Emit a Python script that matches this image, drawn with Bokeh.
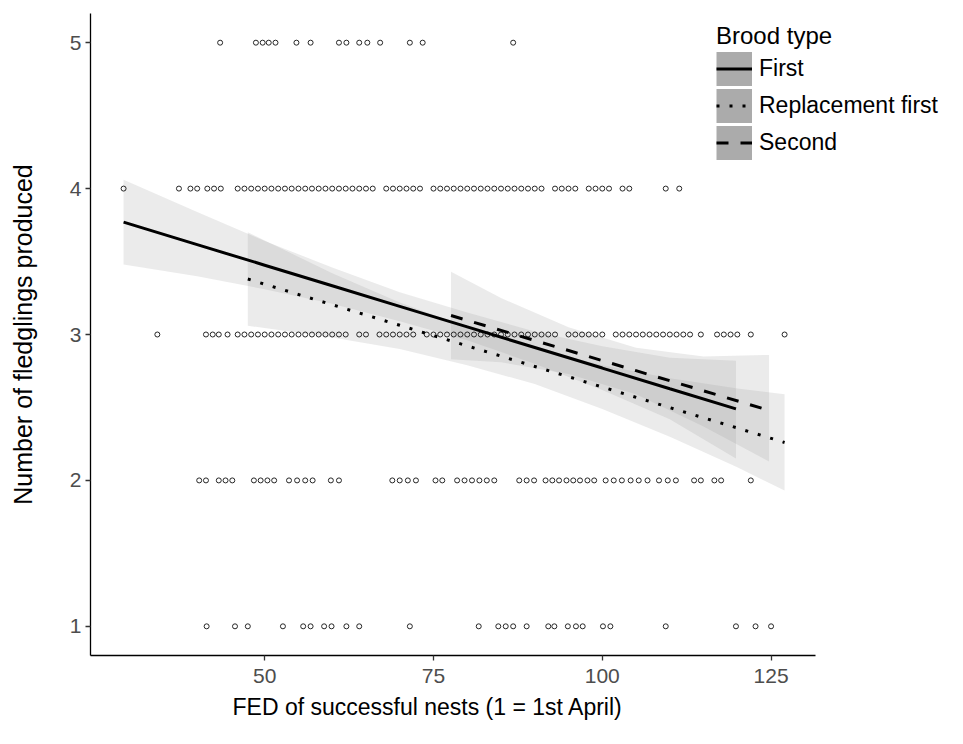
from bokeh.plotting import figure
from bokeh.models import Range1d, FixedTicker, Legend, LegendItem, Title
from bokeh.embed import file_html
from bokeh.resources import INLINE

# ---------------- data ----------------
x_ticks = [50, 75, 100, 125]
y_ticks = [1, 2, 3, 4, 5]
x_axis_limits = (24.2, 131.6)

fed_at_5 = [43.4, 48.7, 49.7, 50.6, 51.6, 54.7, 56.8, 61.0, 62.1, 64.0, 65.2,
            67.1, 71.5, 73.4, 86.8]
fed_at_4 = [29.1, 37.3, 39.0, 40.0, 41.5, 42.5, 43.5,
            46, 47, 48, 49, 50, 51, 52, 53, 54, 55, 56, 57, 58, 59, 60, 61, 62,
            63, 64, 65, 66,
            68, 69, 70, 71, 72, 73,
            75, 76, 77, 78, 79, 80, 81, 82, 83, 84, 85, 86, 87, 88, 89, 90, 91,
            93, 94, 95, 96, 98, 99, 100, 101, 103, 104, 109.4, 111.4]
fed_at_3 = [34.1, 41.3, 42.3, 43.2, 44.5,
            46, 47, 48, 49, 50, 51, 52, 53, 54, 55, 56, 57, 58, 59, 60, 61, 62,
            64, 65, 67, 68, 69, 70, 71, 72,
            74, 75, 76, 77, 78, 79, 80, 81, 82, 83, 84, 85, 86, 87, 88, 89, 90,
            91, 92, 93,
            95, 96, 97, 98, 99, 100,
            102, 103, 104, 105, 106, 107, 108, 109, 110, 111, 112, 113,
            114.6, 117, 118, 119, 120, 122, 127]
fed_at_2 = [40.3, 41.3, 43.2, 44.2, 45.2, 48.4, 49.4, 50.4, 51.4, 53.6, 54.8,
            56.0, 57.1, 59.8, 61.0, 68.9, 70.0, 71.2, 72.4, 75.3, 76.3, 78.5,
            79.6, 80.7, 81.8, 82.9, 84.0, 87.7, 88.8, 89.9, 91.6, 92.6, 93.6,
            94.7, 95.7, 96.7, 97.8, 98.8, 100.5, 101.7, 102.9, 104.2, 105.4,
            106.7, 108.4, 109.7, 110.9, 113.6, 114.6, 116.6, 117.6, 122.0]
fed_at_1 = [41.4, 45.6, 47.5, 52.7, 55.7, 56.8, 58.8, 59.9, 62.1, 64.0, 71.5,
            81.7, 84.6, 85.7, 86.8, 88.8, 92.0, 92.9, 94.9, 96.1, 97.1, 100.1,
            101.2, 109.4, 119.8, 122.7, 125.0]

first_x     = [29.1, 40, 50, 60, 70, 80, 90, 100, 110, 119.8]
first_fit   = [3.77, 3.616, 3.475, 3.334, 3.193, 3.052, 2.911, 2.770, 2.628, 2.490]
first_lower = [3.48, 3.40, 3.31, 3.21, 3.09, 2.96, 2.80, 2.62, 2.42, 2.15]
first_upper = [4.06, 3.84, 3.64, 3.46, 3.29, 3.15, 3.02, 2.92, 2.84, 2.82]

repl_x     = [47.5, 60, 70, 80, 90, 100, 110, 120, 127]
repl_fit   = [3.38, 3.204, 3.063, 2.922, 2.781, 2.640, 2.499, 2.359, 2.260]
repl_lower = [3.06, 2.98, 2.90, 2.79, 2.66, 2.49, 2.30, 2.09, 1.93]
repl_upper = [3.70, 3.42, 3.22, 3.05, 2.91, 2.79, 2.70, 2.63, 2.59]

second_x     = [77.6, 85, 95, 105, 115, 124.7]
second_fit   = [3.13, 3.028, 2.890, 2.752, 2.614, 2.480]
second_lower = [2.83, 2.81, 2.73, 2.59, 2.37, 2.13]
second_upper = [3.43, 3.25, 3.05, 2.91, 2.85, 2.86]

brood_labels = ["First", "Replacement first", "Second"]

# ---------------- figure ----------------
FONT = "Liberation Sans"
# frame spans the whole right side so the legend (which overhangs the axis end)
# is not clipped; the x axis itself is bounded to the data limits.
p = figure(width=963, height=744, output_backend="svg", toolbar_location=None,
           x_range=Range1d(x_axis_limits[0], 153.5), y_range=Range1d(0.8, 5.2),
           min_border_left=90, min_border_right=0, min_border_top=13,
           min_border_bottom=89)
p.background_fill_color = "white"
p.border_fill_color = "white"
p.outline_line_color = None
p.xgrid.visible = False
p.ygrid.visible = False

band_style = dict(fill_color="#999999", fill_alpha=0.2)
p.varea(x=first_x, y1=first_lower, y2=first_upper, **band_style)
p.varea(x=repl_x, y1=repl_lower, y2=repl_upper, **band_style)
p.varea(x=second_x, y1=second_lower, y2=second_upper, **band_style)

pts_x, pts_y = [], []
for lvl, xs in zip(y_ticks, [fed_at_1, fed_at_2, fed_at_3, fed_at_4, fed_at_5]):
    pts_x.extend(xs)
    pts_y.extend([lvl] * len(xs))
p.scatter(pts_x, pts_y, marker="circle", size=5, fill_color=None,
          line_color="#262626", line_width=1)

l1 = p.line(first_x, first_fit, line_color="black", line_width=3)
l2 = p.line(repl_x, repl_fit, line_color="black", line_width=3, line_dash="3 10")
l3 = p.line(second_x, second_fit, line_color="black", line_width=3, line_dash="12 12")

# legend-only key background (no visible data)
nan = float("nan")
key = p.line(x=[nan], y=[nan], line_color="#ababab", line_width=34,
             line_cap="butt")

legend = Legend(items=[LegendItem(label=brood_labels[0], renderers=[key, l1]),
                       LegendItem(label=brood_labels[1], renderers=[key, l2]),
                       LegendItem(label=brood_labels[2], renderers=[key, l3])],
                location=(626, 494), title="Brood type",
                glyph_width=36, glyph_height=37, spacing=0, label_standoff=7,
                padding=0, margin=0, border_line_color=None,
                background_fill_alpha=0,
                label_text_font=FONT, label_text_font_size="23px",
                label_text_color="black",
                title_text_font=FONT, title_text_font_size="24px",
                title_text_font_style="normal", title_text_color="black",
                title_standoff=0)
p.add_layout(legend)

p.xaxis.ticker = FixedTicker(ticks=x_ticks)
p.yaxis.ticker = FixedTicker(ticks=y_ticks)
p.xaxis.bounds = x_axis_limits
p.yaxis.axis_label = "Number of fledglings produced"
for ax in (p.xaxis[0], p.yaxis[0]):
    ax.axis_line_color = "black"
    ax.axis_line_width = 1.3
    ax.major_tick_line_color = "#333333"
    ax.major_tick_line_width = 1.3
    ax.major_tick_out = 5
    ax.major_tick_in = 0
    ax.minor_tick_out = 0
    ax.minor_tick_in = 0
    ax.major_label_text_font = FONT
    ax.major_label_text_font_size = "21px"
    ax.major_label_text_color = "#4d4d4d"
    ax.axis_label_text_font = FONT
    ax.axis_label_text_font_size = "25px"
    ax.axis_label_text_font_style = "normal"
    ax.axis_label_text_color = "black"
p.xaxis.major_label_standoff = 8
p.yaxis.major_label_standoff = 4
p.yaxis.axis_label_standoff = 30

x_title = Title(text="FED of successful nests (1 = 1st April)", align="left",
                offset=142, text_font=FONT, text_font_size="23px",
                text_font_style="normal", text_color="black", standoff=12)
p.add_layout(x_title, "below")

open("out.html", "w").write(file_html(p, INLINE))
